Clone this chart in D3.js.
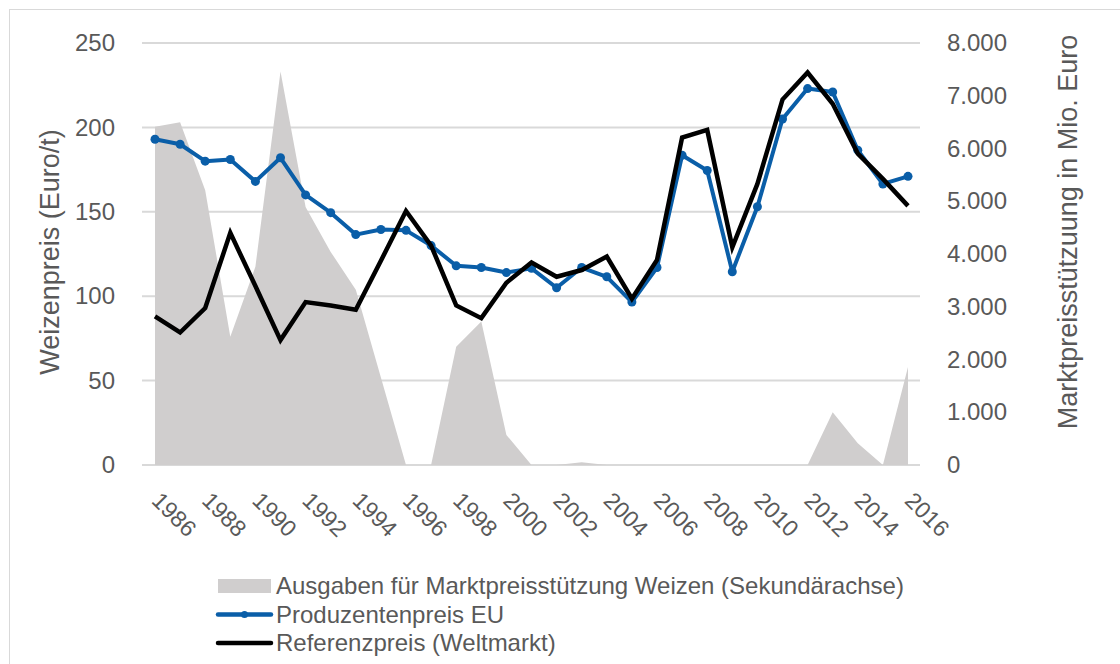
<!DOCTYPE html>
<html>
<head>
<meta charset="utf-8">
<script src="https://cdn.jsdelivr.net/npm/d3@7"></script>
<style>
  body { margin: 0; background: #fff; }
  svg { display: block; font-family: "Liberation Sans", Arial, sans-serif; }
  .axis text { fill: #595959; }
</style>
</head>
<body>
<svg id="chart" width="1120" height="664"></svg>
<script>
var years = d3.range(1986, 2017);
var yearLabels = d3.range(1986, 2017, 2);

// Euro/t
var produzentenpreis = [193, 190, 180, 181, 168, 182, 160, 149.5, 136.5, 139.5, 139, 130, 118, 117, 114, 116.5,
  105, 117, 111.5, 96.5, 117, 183.5, 174.5, 114.5, 153, 205, 223, 221, 186.5, 166.5, 171];
var referenzpreis = [88, 78.5, 93, 137.5, 106, 74, 96.5, 94.5, 92, 121, 150.5, 130, 94.5, 87, 108, 120,
  111.5, 115.5, 123.5, 98.5, 121.5, 194, 198.5, 129, 166.5, 216.5, 232.5, 214, 184.5, 169.5, 153.5];
// Mio. Euro (Sekundärachse)
var marktpreisstuetzung = [6410, 6500, 5210, 2430, 3760, 7460, 4890, 4040, 3320, 1660, 0, 0, 2240, 2720, 570, 0,
  0, 50, 0, 0, 0, 0, 0, 0, 0, 0, 0, 1000, 410, 0, 1860];

var leftTicks = [0, 50, 100, 150, 200, 250];
var rightTicks = [0, 1000, 2000, 3000, 4000, 5000, 6000, 7000, 8000];

var legendItems = [
  { key: "area", label: "Ausgaben für Marktpreisstützung Weizen (Sekundärachse)" },
  { key: "blue", label: "Produzentenpreis EU" },
  { key: "black", label: "Referenzpreis (Weltmarkt)" }
];

var svg = d3.select("#chart");
var plotLeft = 142, plotRight = 920, plotTop = 43, plotBottom = 465;

var x = d3.scalePoint().domain(years).range([155, 908]);
var y = d3.scaleLinear().domain([0, 250]).range([plotBottom, plotTop]);
var y2 = d3.scaleLinear().domain([0, 8000]).range([plotBottom, plotTop]);

var de = d3.formatLocale({ decimal: ",", thousands: ".", grouping: [3], currency: ["", " €"] });

// outer frame
svg.append("rect")
    .attr("x", 9.5).attr("y", 9.5)
    .attr("width", 1140).attr("height", 700)
    .attr("fill", "none")
    .attr("stroke", "#d9d9d9");

// gridlines
svg.append("g").selectAll("line")
    .data(leftTicks)
    .enter().append("line")
    .attr("x1", plotLeft).attr("x2", plotRight)
    .attr("y1", function(d) { return y(d); })
    .attr("y2", function(d) { return y(d); })
    .attr("stroke", "#d9d9d9")
    .attr("stroke-width", 2);

// area on secondary axis
var area = d3.area()
    .x(function(d, i) { return x(years[i]); })
    .y0(plotBottom)
    .y1(function(d) { return y2(d); });

svg.append("path")
    .datum(marktpreisstuetzung)
    .attr("d", area)
    .attr("fill", "#d0cece");

var line = d3.line()
    .x(function(d, i) { return x(years[i]); })
    .y(function(d) { return y(d); });

svg.append("path")
    .datum(produzentenpreis)
    .attr("d", line)
    .attr("fill", "none")
    .attr("stroke", "#0a5ea8")
    .attr("stroke-width", 4)
    .attr("stroke-linejoin", "round");

svg.append("g").selectAll("circle")
    .data(produzentenpreis)
    .enter().append("circle")
    .attr("cx", function(d, i) { return x(years[i]); })
    .attr("cy", function(d) { return y(d); })
    .attr("r", 4.5)
    .attr("fill", "#0a5ea8");

svg.append("path")
    .datum(referenzpreis)
    .attr("d", line)
    .attr("fill", "none")
    .attr("stroke", "#000")
    .attr("stroke-width", 4.5)
    .attr("stroke-linejoin", "miter");

// axes
svg.append("g")
    .attr("class", "axis")
    .attr("transform", "translate(" + plotLeft + ",0)")
    .call(d3.axisLeft(y).tickValues(leftTicks).tickSize(0).tickPadding(27))
    .call(function(g) { g.select(".domain").remove(); })
    .selectAll("text")
    .style("font-size", "24px");

svg.append("g")
    .attr("class", "axis")
    .attr("transform", "translate(" + plotRight + ",0)")
    .call(d3.axisRight(y2).tickValues(rightTicks).tickSize(0).tickPadding(27).tickFormat(de.format(",d")))
    .call(function(g) { g.select(".domain").remove(); })
    .selectAll("text")
    .style("font-size", "24px");

svg.append("g")
    .attr("class", "axis")
    .attr("transform", "translate(0," + plotBottom + ")")
    .call(d3.axisBottom(x).tickValues(yearLabels).tickSize(0))
    .call(function(g) { g.select(".domain").remove(); })
    .selectAll("text")
    .attr("y", 0)
    .attr("dy", 0)
    .attr("transform", "translate(-5,37) rotate(45)")
    .style("text-anchor", "start")
    .style("font-size", "23px");

// axis titles
svg.append("text")
    .attr("transform", "translate(59,252) rotate(-90)")
    .attr("text-anchor", "middle")
    .attr("fill", "#595959")
    .style("font-size", "27px")
    .text("Weizenpreis (Euro/t)");

svg.append("text")
    .attr("transform", "translate(1077,232) rotate(-90)")
    .attr("text-anchor", "middle")
    .attr("fill", "#595959")
    .style("font-size", "27px")
    .text("Marktpreisstützuung in Mio. Euro");

// legend
var legend = svg.append("g").attr("transform", "translate(218,586)");
var item = legend.selectAll("g")
    .data(legendItems)
    .enter().append("g")
    .attr("transform", function(d, i) { return "translate(0," + (i * 28.5) + ")"; });

item.filter(function(d) { return d.key === "area"; })
    .append("rect")
    .attr("x", 0).attr("y", -7)
    .attr("width", 53).attr("height", 14)
    .attr("fill", "#d0cece");

item.filter(function(d) { return d.key !== "area"; })
    .append("line")
    .attr("x1", 0).attr("x2", 53)
    .attr("stroke", function(d) { return d.key === "blue" ? "#0a5ea8" : "#000"; })
    .attr("stroke-width", 4.5)
    .attr("stroke-linecap", "round");

item.filter(function(d) { return d.key === "blue"; })
    .append("circle")
    .attr("cx", 26.5).attr("r", 3.5)
    .attr("fill", "#0a5ea8");

item.append("text")
    .attr("x", 58)
    .attr("dy", "0.35em")
    .attr("fill", "#595959")
    .style("font-size", "24px")
    .text(function(d) { return d.label; });
</script>
</body>
</html>
